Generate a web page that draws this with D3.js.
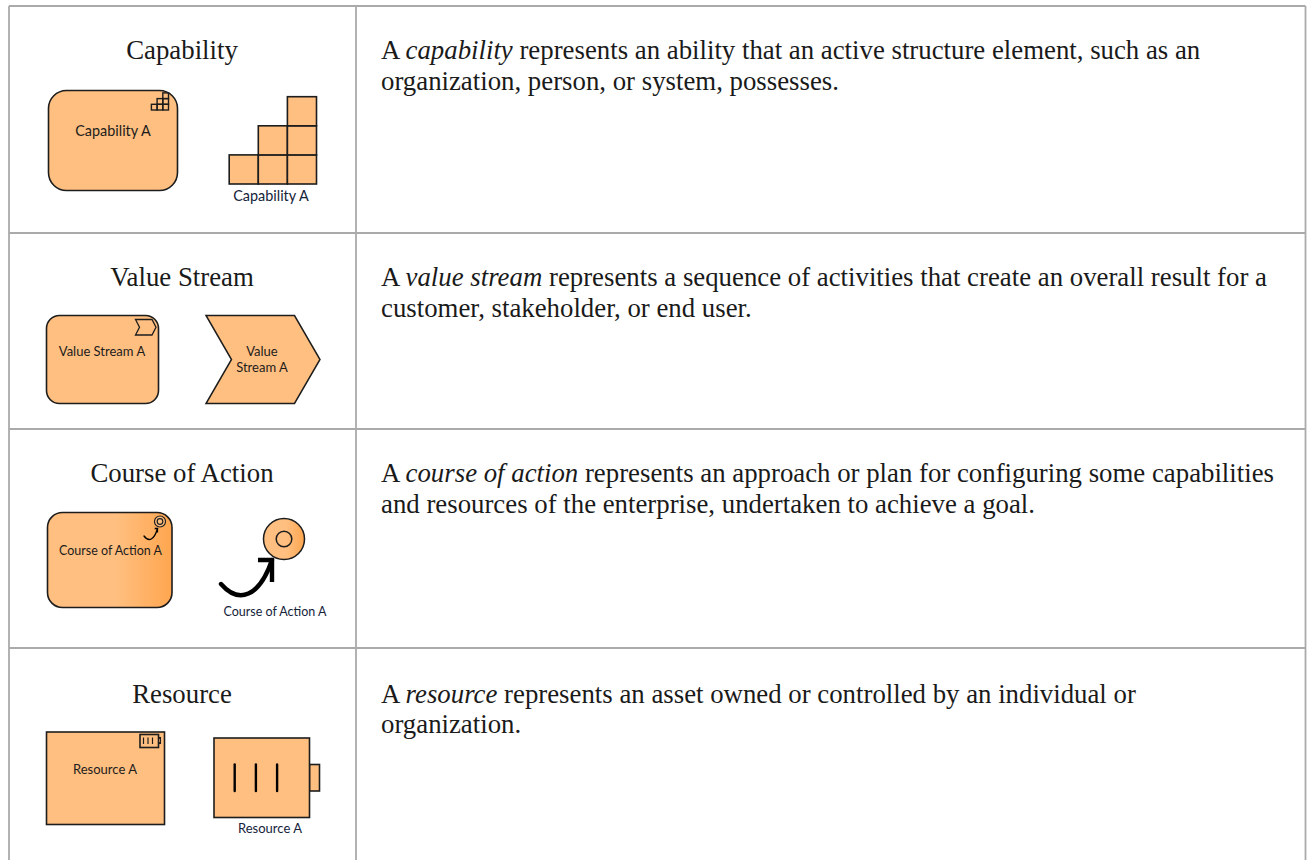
<!DOCTYPE html>
<html>
<head>
<title>Strategy elements</title>
<script src="https://d3js.org/d3.v7.min.js"></script>
<style>
  html, body { margin: 0; padding: 0; background: #fff; overflow: hidden; }
  svg { display: block; }
  .label { font-family: Lato, sans-serif; font-size: 13px; fill: #1c1c1c; text-anchor: middle; }
  .big { font-size: 14.4px; }
  .small { font-size: 12.5px; }
  .under { fill: #14233a; }
  .title { font-family: "Liberation Serif", serif; font-size: 26.8px; fill: #1a1a1a; text-anchor: middle; }
  .desc { font-family: "Liberation Serif", serif; font-size: 26.8px; fill: #1a1a1a; }
</style>
</head>
<body>
<div class="chart"></div>
<script>
const rowNames = ['Capability', 'Value Stream', 'Course of Action', 'Resource'];
const rowTerms = ['capability', 'value stream', 'course of action', 'resource'];
const firstLines = [
  ' represents an ability that an active structure element, such as an',
  ' represents a sequence of activities that create an overall result for a',
  ' represents an approach or plan for configuring some capabilities',
  ' represents an asset owned or controlled by an individual or'
];
const secondLines = [
  'organization, person, or system, possesses.',
  'customer, stakeholder, or end user.',
  'and resources of the enterprise, undertaken to achieve a goal.',
  'organization.'
];
const stairColumns = [1, 2, 3];
const resourceBars = [0, 1, 2];

const width = 1308;
const height = 860;
const fill = '#ffbf80';
const ink = '#1d1d1d';

const svg = d3.select('.chart').append('svg')
  .attr('width', width)
  .attr('height', height);

const defs = svg.append('defs');
const grad = defs.append('linearGradient').attr('id', 'coa');
grad.append('stop').attr('offset', '55%').attr('stop-color', fill);
grad.append('stop').attr('offset', '100%').attr('stop-color', '#ffa64f');

// row top lines of the table
const rowTop = d3.scaleOrdinal().domain(rowNames).range([6, 233, 429, 648]);

const rows = svg.selectAll('g.row')
  .data(rowNames)
  .enter()
  .append('g')
  .attr('class', 'row')
  .attr('transform', d => 'translate(0,' + rowTop(d) + ')');

rows.append('text')
  .attr('class', 'title')
  .attr('x', 182)
  .attr('y', (d, i) => i == 3 ? 54.5 : 52.5)
  .text(d => d);

const desc = rows.append('text')
  .attr('class', 'desc')
  .attr('x', 381)
  .attr('y', (d, i) => i == 3 ? 54.5 : 52.5);
desc.append('tspan').text('A ');
desc.append('tspan').attr('font-style', 'italic').text((d, i) => rowTerms[i]);
desc.append('tspan').text((d, i) => firstLines[i]);

rows.append('text')
  .attr('class', 'desc')
  .attr('x', 381)
  .attr('y', (d, i) => i == 3 ? 84.5 : 83.5)
  .text((d, i) => secondLines[i]);

function g(name) {
  return rows.filter(d => d == name);
}

function box(sel, x, y, w, h, r, color) {
  return sel.append('rect')
    .attr('x', x).attr('y', y)
    .attr('width', w).attr('height', h)
    .attr('rx', r).attr('ry', r)
    .attr('fill', color || fill)
    .attr('stroke', ink)
    .attr('stroke-width', 1.6);
}

function label(sel, x, y, text, cls) {
  sel.append('text')
    .attr('class', 'label ' + (cls || ''))
    .attr('x', x).attr('y', y)
    .text(text);
}

const line = d3.line();

function shape(sel, pts, closed, color, sw) {
  sel.append('path')
    .attr('d', line(pts) + (closed ? 'Z' : ''))
    .attr('fill', color)
    .attr('stroke', ink)
    .attr('stroke-width', sw)
    .attr('stroke-linejoin', 'miter');
}

// stairs: right/bottom give the bottom right corner, size is one cell
function stairs(sel, right, bottom, size, sw, color) {
  stairColumns.forEach(function(count, i) {
    d3.range(count).forEach(function(k) {
      sel.append('rect')
        .attr('x', right - size * (stairColumns.length - i))
        .attr('y', bottom - size * (k + 1))
        .attr('width', size).attr('height', size)
        .attr('fill', color)
        .attr('stroke', ink)
        .attr('stroke-width', sw);
    });
  });
}

function chevron(sel, x, y, w, h, notch, sw) {
  const pts = [[x, y], [x + w - notch, y], [x + w, y + h / 2], [x + w - notch, y + h], [x, y + h], [x + notch, y + h / 2]];
  shape(sel, pts, true, fill, sw);
}

function curveArrow(sel, x0, y0, x1, y1, headW, headH, sw) {
  const p = d3.path();
  const dx = x1 - x0;
  const dy = y0 - y1;
  p.moveTo(x0, y0);
  p.bezierCurveTo(x0 + dx * 0.35, y0 + dy * 0.85, x0 + dx * 0.75, y0 + dy * 0.55, x1, y1);
  sel.append('path').attr('d', p.toString())
    .attr('fill', 'none').attr('stroke', '#000').attr('stroke-width', sw).attr('stroke-linecap', 'round');
  sel.append('path').attr('d', line([[x1 - headW, y1], [x1, y1], [x1, y1 + headH]]))
    .attr('fill', 'none').attr('stroke', '#000').attr('stroke-width', sw).attr('stroke-linejoin', 'miter');
}

// capability
const cap = g('Capability');
box(cap, 48.5, 84.5, 129, 100, 18);
stairs(cap, 168.5, 104, 5.7, 1.4, 'none');
label(cap, 113, 130, 'Capability A', 'big');
stairs(cap, 316.5, 178, 29.1, 1.6, fill);
label(cap, 271, 194.5, 'Capability A', 'big under');

// value stream
const val = g('Value Stream');
box(val, 46.5, 82.5, 112, 88, 13);
chevron(val, 135.5, 86.5, 20.5, 15.5, 4, 1.3);
label(val, 102, 122.5, 'Value Stream A');
chevron(val, 206, 82.5, 114, 88, 25.5, 1.5);
label(val, 262, 122.5, 'Value');
label(val, 262, 138.5, 'Stream A');

// course of action
const coa = g('Course of Action');
box(coa, 47.5, 83.5, 124.5, 95, 15, 'url(#coa)');
coa.append('circle').attr('cx', 160).attr('cy', 92.5).attr('r', 5.5)
  .attr('fill', fill).attr('stroke', ink).attr('stroke-width', 1.2);
coa.append('circle').attr('cx', 160).attr('cy', 92.5).attr('r', 2.8)
  .attr('fill', 'none').attr('stroke', ink).attr('stroke-width', 1.2);
curveArrow(coa, 144, 107, 157.5, 99.5, 2.8, 4, 1.3);
label(coa, 110.5, 125.5, 'Course of Action A', 'small');
coa.append('circle').attr('cx', 284).attr('cy', 110).attr('r', 20.5)
  .attr('fill', 'url(#coa)').attr('stroke', ink).attr('stroke-width', 1.5);
coa.append('circle').attr('cx', 284).attr('cy', 110).attr('r', 7.8)
  .attr('fill', 'none').attr('stroke', ink).attr('stroke-width', 1.5);
curveArrow(coa, 221, 155, 272, 131, 14, 22, 4.4);
label(coa, 275, 186.5, 'Course of Action A', 'small under');

// resource
const res = g('Resource');
box(res, 46.5, 84, 118, 92.5, 0);
res.append('rect').attr('x', 158.5).attr('y', 89.5).attr('width', 2).attr('height', 6)
  .attr('fill', 'none').attr('stroke', ink).attr('stroke-width', 1.1);
box(res, 140, 86.5, 18.5, 13, 0);
res.selectAll('line.tiny')
  .data(resourceBars)
  .enter()
  .append('line')
  .attr('class', 'tiny')
  .attr('x1', d => 143.5 + d * 4.5).attr('x2', d => 143.5 + d * 4.5)
  .attr('y1', 89.5).attr('y2', 96)
  .attr('stroke', ink).attr('stroke-width', 1.2);
label(res, 105, 125.5, 'Resource A');
box(res, 309.5, 116.5, 10, 26.5, 0);
box(res, 214, 90, 95.5, 79.5, 0);
res.selectAll('line.bar')
  .data(resourceBars)
  .enter()
  .append('line')
  .attr('class', 'bar')
  .attr('x1', d => 234.7 + d * 21.2).attr('x2', d => 234.7 + d * 21.2)
  .attr('y1', 116.5).attr('y2', 143)
  .attr('stroke', '#000').attr('stroke-width', 2.4).attr('stroke-linecap', 'round');
label(res, 270, 184.5, 'Resource A', 'under');

// table lines, the bottom of the table runs off the picture
const grid = svg.append('g').attr('stroke', '#aaa').attr('stroke-width', 1.8);
rowNames.forEach(function(name) {
  grid.append('line').attr('x1', 9).attr('x2', 1305.5).attr('y1', rowTop(name)).attr('y2', rowTop(name));
});
[9, 356, 1305.5].forEach(function(x) {
  grid.append('line').attr('x1', x).attr('x2', x).attr('y1', 6).attr('y2', height);
});
</script>
</body>
</html>
